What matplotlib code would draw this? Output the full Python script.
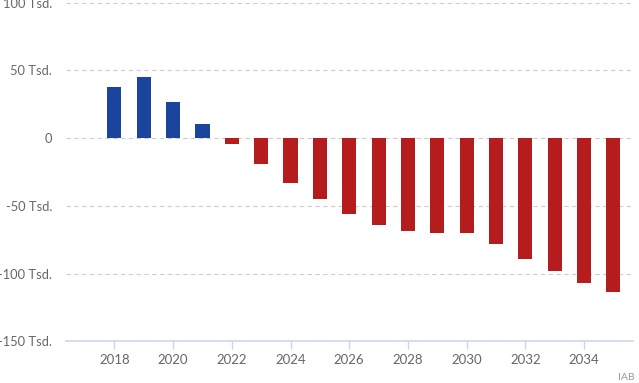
import numpy as np
import matplotlib.pyplot as plt
from matplotlib.ticker import FuncFormatter

# ------------------------------------------------------------
# data (Tsd.)
# ------------------------------------------------------------
years = np.arange(2018, 2036)
values = [38.1, 45.5, 27.0, 10.8, -4.4, -19.2, -33.2, -45.0, -56.0,
          -64.0, -68.5, -70.0, -70.2, -78.0, -89.0, -98.2, -106.8, -113.5]
blue_until = 2021

col_blue = "#1b449c"
col_red = "#b41c1e"
grey_txt = "#666666"

plt.rcParams["font.family"] = ["Lato", "DejaVu Sans"]

fig = plt.figure(figsize=(6.39, 3.83), dpi=100)
W, H = 639, 383
ax = fig.add_axes([66 / W, (H - 341.3) / H, (633 - 66) / W, (341.3 - 2.7) / H])

colors = [col_blue if y <= blue_until else col_red for y in years]
ax.bar(years, values, width=0.48, color=colors, zorder=3)

ax.set_xlim(2016.35, 2035.67)
ax.set_ylim(-150, 100)
ax.set_yticks([-150, -100, -50, 0, 50, 100])
ax.yaxis.set_major_formatter(FuncFormatter(lambda v, p: "0" if v == 0 else f"{int(v)} Tsd."))
ax.set_xticks(np.arange(2018, 2036, 2))

for v in [-100, -50, 0, 50, 100]:
    ax.axhline(v, color="#cccccc", lw=0.8, ls=(0, (4, 3)), zorder=1)

for s in ["top", "right", "left"]:
    ax.spines[s].set_visible(False)
ax.spines["bottom"].set_color("#ccd6eb")
ax.spines["bottom"].set_linewidth(1.2)

ax.tick_params(axis="y", length=0, pad=10, labelsize=9.3, labelcolor=grey_txt)
ax.tick_params(axis="x", length=6, width=1, color="#ccd6eb", pad=3,
               labelsize=9.5, labelcolor=grey_txt)

fig.text(635 / W, 1 - 377 / H, "IAB", ha="right", va="center",
         fontsize=7.5, color="#999999")

fig.savefig("out.png", dpi=100)
